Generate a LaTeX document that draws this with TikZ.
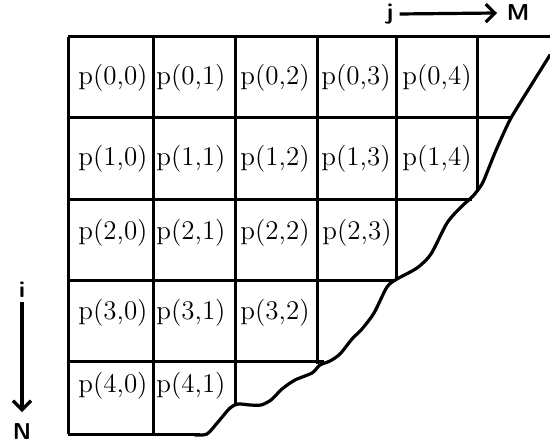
\documentclass[tikz,border=0pt]{standalone}
\usepackage{tikz}
\usetikzlibrary{arrows.meta,positioning,calc}
\tikzset{
  >={Straight Barb[length=4.5pt,width=9pt,line width=1.6pt]},
  cell/.style={inner sep=0pt, font=\fontsize{13.5}{16}\selectfont},
  axislbl/.style={inner sep=0pt, font=\sffamily\bfseries\fontsize{11.5}{13}\selectfont},
  gridline/.style={line width=1.5pt},
  boundary/.style={line width=1.6pt, line join=round, line cap=round},
  axisarrow/.style={line width=1.6pt, ->},
}
\begin{document}
\begin{tikzpicture}[x=0.5pt,y=-0.5pt]
  \useasboundingbox (0,0) rectangle (550,442);

  % cells
  \node[cell] (p00) at (113,78) {p(0,0)};
  \node[cell] (p01) at (191,78) {p(0,1)};
  \node[cell] (p02) at (275,78) {p(0,2)};
  \node[cell] (p03) at (356,78) {p(0,3)};
  \node[cell] (p04) at (437,78) {p(0,4)};

  \node[cell] (p10) at (113,159) {p(1,0)};
  \node[cell] (p11) at (191,159) {p(1,1)};
  \node[cell] (p12) at (275,159) {p(1,2)};
  \node[cell] (p13) at (356,159) {p(1,3)};
  \node[cell] (p14) at (437,159) {p(1,4)};

  \node[cell] (p20) at (113,233) {p(2,0)};
  \node[cell] (p21) at (191,233) {p(2,1)};
  \node[cell] (p22) at (275,233) {p(2,2)};
  \node[cell] (p23) at (357,233) {p(2,3)};

  \node[cell] (p30) at (113,313) {p(3,0)};
  \node[cell] (p31) at (191,313) {p(3,1)};
  \node[cell] (p32) at (275,313) {p(3,2)};

  \node[cell] (p40) at (113,386) {p(4,0)};
  \node[cell] (p41) at (191,386) {p(4,1)};

  % grid
  \draw[gridline] (68,37) -- (550,37);
  \draw[gridline] (68,118) -- (510,118);
  \draw[gridline] (68,200) -- (472,200);
  \draw[gridline] (68,281) -- (396,281);
  \draw[gridline] (68,361) -- (324,361);
  \draw[gridline] (68,434) -- (200,434);
  \draw[gridline] (68,37) -- (68,434);
  \draw[gridline] (153,37) -- (153,434);
  \draw[gridline] (235,37) -- (235,404);
  \draw[gridline] (317,37) -- (317,364);
  \draw[gridline] (396,37) -- (396,279);
  \draw[gridline] (477,37) -- (477,190);

  % boundary
  \draw[boundary] plot[smooth, tension=0.45] coordinates {
    (195,435) (207,434) (218,422) (230,408) (238,404) (250,405) (261,405)
    (271,400) (282,389) (295,380) (312,373) (320,365) (330,361) (340,354)
    (352,339) (362,329) (374,313) (387,287) (397,279) (417,268) (431,254)
    (447,223) (461,207) (473,196) (482,184) (488,170) (494,155) (501,139)
    (511,118) (530,87) (550,55)};

  % axes
  \node[axislbl] (j) at (390,14) {j};
  \node[axislbl] (M) at (518,13) {M};
  \draw[axisarrow] (j.east) ++(3pt,0) coordinate (jstart) -- (M.west -| 497,0);
  \node[axislbl] (i) at (22,290) {i};
  \node[axislbl] (N) at (22,432) {N};
  \draw[axisarrow] (i) ++(0,12) -- (22,412);
\end{tikzpicture}
\end{document}
